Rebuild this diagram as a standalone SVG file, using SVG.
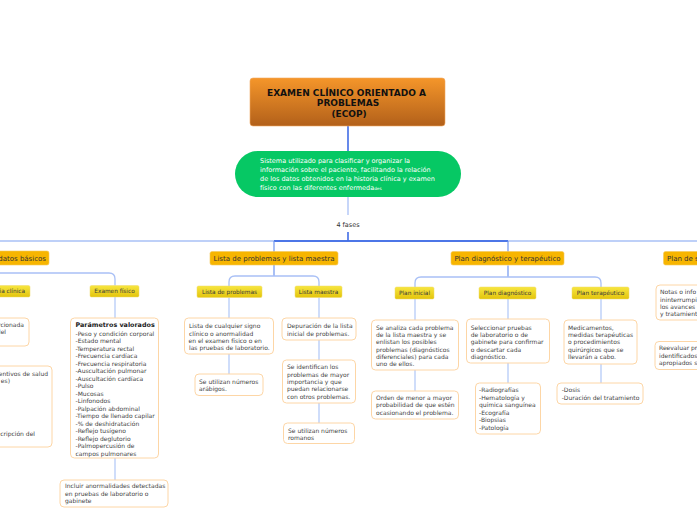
<svg xmlns="http://www.w3.org/2000/svg" width="697" height="520" viewBox="0 0 697 520">
<defs>
<linearGradient id="gTitle" x1="0" y1="0" x2="0" y2="1">
<stop offset="0" stop-color="#f5962a"/>
<stop offset="1" stop-color="#b2601a"/>
</linearGradient>
<linearGradient id="gL2" x1="0" y1="0" x2="0" y2="1">
<stop offset="0" stop-color="#f7e640"/>
<stop offset="1" stop-color="#e3c40c"/>
</linearGradient>
<style>
text{font-family:"DejaVu Sans","Verdana",sans-serif;}
.l1{fill:#f7b500;stroke:#f5c95a;stroke-width:0.6;}
.l1t{font-size:7px;fill:#333;text-anchor:middle;}
.l2{fill:url(#gL2);stroke:#efd86a;stroke-width:0.5;}
.l2t{font-size:5.8px;fill:#3a3a3a;text-anchor:middle;}
.box{fill:#fff;stroke:#fdd6a6;stroke-width:1;}
.bt{font-size:6px;fill:#444;}
.gt{font-size:6.5px;fill:#fff;}
.dk{stroke:#2658e2;stroke-width:1.4;fill:none;}
.md{stroke:#6f95ee;stroke-width:1.2;fill:none;}
.lt{stroke:#a9c0f6;stroke-width:1.3;fill:none;}
.lt2{stroke:#b6cbf7;stroke-width:1.3;fill:none;}
</style>
</defs>
<rect width="697" height="520" fill="#fff"/>

<g id="connectors">
<path class="dk" d="M348 126V151"/>
<path class="lt" d="M348 197V215"/>
<path class="dk" d="M348 232V241"/>
<path class="lt" d="M0 241H697"/>
<path class="dk" d="M274 241H508" stroke="#4a78e8"/>
<path class="md" d="M274 241V252"/>
<path class="md" d="M508 241V252"/>
<path class="md" d="M274 265V276"/>
<path class="lt" d="M229 286V282Q229 276 235 276H313Q319 276 319 282V286"/>
<path class="md" d="M508 265.5V277"/>
<path class="lt" d="M415 287V283Q415 277 421 277H595Q601 277 601 283V287"/>
<path class="lt" d="M0 273H109Q115 273 115 279V285.5"/>
<path class="lt2" d="M115 297V318M115 458V480"/>
<path class="lt2" d="M229 297.5V318M229 354V374"/>
<path class="lt2" d="M319 297.5V318M319 340V360M319 403V423"/>
<path class="lt2" d="M415 299V320M415 370V391"/>
<path class="lt2" d="M508 299V319M508 363V383"/>
<path class="lt2" d="M601 299V320M601 364V383"/>
</g>

<g id="title">
<rect x="250" y="78" width="195" height="48" rx="3" fill="url(#gTitle)" stroke="#f2a860" stroke-width="0.6"/>
<text x="346.5" y="95.6" font-size="9" font-weight="bold" fill="#111" text-anchor="middle">EXAMEN CLÍNICO ORIENTADO A</text>
<text x="348" y="106.3" font-size="9" font-weight="bold" fill="#111" text-anchor="middle">PROBLEMAS</text>
<text x="349" y="117" font-size="9" font-weight="bold" fill="#111" text-anchor="middle">(ECOP)</text>
</g>

<g id="definition">
<rect x="235" y="151" width="226" height="46" rx="23" fill="#06c864"/>
<text class="gt" x="260" y="162.5">Sistema utilizado para clasificar y organizar la</text>
<text class="gt" x="260" y="171.5">información sobre el paciente, facilitando la relación</text>
<text class="gt" x="260" y="181">de los datos obtenidos en la historia clínica y examen</text>
<text class="gt" x="260" y="190">físico con las diferentes enfermeda<tspan font-size="4.2">des</tspan></text>
</g>

<g id="label-fases">
<text x="348" y="227" font-size="6.5" fill="#333" text-anchor="middle">4 fases</text>
</g>

<g id="n-datos">
<rect class="l1" x="-10" y="251" width="59" height="14" rx="2"/>
<text x="46" y="260.5" font-size="7" fill="#333" text-anchor="end">datos básicos</text>
</g>
<g id="n-lista">
<rect class="l1" x="210" y="251.5" width="128" height="13.5" rx="2"/>
<text class="l1t" x="274" y="260.7">Lista de problemas y lista maestra</text>
</g>
<g id="n-plan">
<rect class="l1" x="451" y="251.5" width="113" height="13.5" rx="2"/>
<text class="l1t" x="507.5" y="260.7">Plan diagnóstico y terapéutico</text>
</g>
<g id="n-plans">
<rect class="l1" x="663.5" y="251.5" width="50" height="13.5" rx="2"/>
<text x="667" y="260.7" font-size="7" fill="#333">Plan de s</text>
</g>

<g id="n-historia">
<rect class="l2" x="-20" y="285.5" width="50" height="11.5" rx="1.5"/>
<text x="25" y="293.3" font-size="5.8" fill="#3a3a3a" text-anchor="end">ia clínica</text>
</g>
<g id="n-examen">
<rect class="l2" x="90" y="285.5" width="49" height="11.5" rx="1.5"/>
<text class="l2t" x="114.5" y="293.3">Examen físico</text>
</g>
<g id="n-listaprob">
<rect class="l2" x="197" y="286" width="65" height="11.5" rx="1.5"/>
<text class="l2t" x="229.5" y="293.8">Lista de problemas</text>
</g>
<g id="n-listamaestra">
<rect class="l2" x="295" y="286" width="47" height="11.5" rx="1.5"/>
<text class="l2t" x="318.5" y="293.8">Lista maestra</text>
</g>
<g id="n-inicial">
<rect class="l2" x="395" y="287" width="39" height="12" rx="1.5"/>
<text class="l2t" x="414.5" y="295">Plan inicial</text>
</g>
<g id="n-diag">
<rect class="l2" x="479" y="287" width="57" height="12" rx="1.5"/>
<text class="l2t" x="507.5" y="295">Plan diagnóstico</text>
</g>
<g id="n-terap">
<rect class="l2" x="572" y="287" width="57" height="12" rx="1.5"/>
<text class="l2t" x="600.5" y="295">Plan terapéutico</text>
</g>

<g id="b-hist1">
<rect class="box" x="-10" y="318" width="39" height="28" rx="4"/>
<text class="bt" x="24" y="326.5" text-anchor="end">rcionada</text>
<text class="bt" x="6" y="334" text-anchor="end">del</text>
</g>
<g id="b-hist2">
<rect class="box" x="-10" y="366" width="62" height="81" rx="4"/>
<text class="bt" x="48" y="376" text-anchor="end">entivos de salud</text>
<text class="bt" x="10" y="383" text-anchor="end">es)</text>
<text class="bt" x="35" y="436" text-anchor="end">cripción del</text>
</g>
<g id="b-param">
<rect class="box" x="70.5" y="318" width="88" height="140" rx="4"/>
<text x="75.5" y="326.5" font-size="6.4" font-weight="bold" fill="#222">Parámetros valorados</text>
<text class="bt" x="75.5" y="335.5">-Peso y condición corporal</text>
<text class="bt" x="75.5" y="343">-Estado mental</text>
<text class="bt" x="75.5" y="350.5">-Temperatura rectal</text>
<text class="bt" x="75.5" y="358">-Frecuencia cardíaca</text>
<text class="bt" x="75.5" y="365.5">-Frecuencia respiratoria</text>
<text class="bt" x="75.5" y="373">-Auscultación pulmonar</text>
<text class="bt" x="75.5" y="380.5">-Auscultación cardíaca</text>
<text class="bt" x="75.5" y="388">-Pulso</text>
<text class="bt" x="75.5" y="395.5">-Mucosas</text>
<text class="bt" x="75.5" y="403">-Linfonodos</text>
<text class="bt" x="75.5" y="410.5">-Palpación abdominal</text>
<text class="bt" x="75.5" y="418">-Tiempo de llenado capilar</text>
<text class="bt" x="75.5" y="425.5">-% de deshidratación</text>
<text class="bt" x="75.5" y="433">-Reflejo tusígeno</text>
<text class="bt" x="75.5" y="440.5">-Reflejo deglutorio</text>
<text class="bt" x="75.5" y="448">-Palmopercusión de</text>
<text class="bt" x="75.5" y="455.5">campos pulmonares</text>
</g>
<g id="b-incluir">
<rect class="box" x="60" y="480" width="108" height="27" rx="4"/>
<text class="bt" x="65" y="488">Incluir anormalidades detectadas</text>
<text class="bt" x="65" y="495.5">en pruebas de laboratorio o</text>
<text class="bt" x="65" y="503">gabinete</text>
</g>

<g id="b-cualquier">
<rect class="box" x="184.5" y="318" width="89" height="36" rx="4"/>
<text class="bt" x="189" y="328.3">Lista de cualquier signo</text>
<text class="bt" x="189" y="335.6">clínico o anormalidad</text>
<text class="bt" x="188.5" y="343">en el examen físico o en</text>
<text class="bt" x="189" y="350.3">las pruebas de laboratorio.</text>
</g>
<g id="b-arabigos">
<rect class="box" x="195" y="374" width="68" height="21.5" rx="4"/>
<text class="bt" x="199" y="384">Se utilizan números</text>
<text class="bt" x="199" y="391.3">arábigos.</text>
</g>
<g id="b-depuracion">
<rect class="box" x="282" y="318" width="74" height="22" rx="4"/>
<text class="bt" x="287" y="328.3">Depuración de la lista</text>
<text class="bt" x="287" y="335.6">inicial de problemas.</text>
</g>
<g id="b-identifican">
<rect class="box" x="282.5" y="360" width="73" height="43" rx="4"/>
<text class="bt" x="287" y="369.3">Se identifican los</text>
<text class="bt" x="287" y="376.6">problemas de mayor</text>
<text class="bt" x="287" y="384">importancia y que</text>
<text class="bt" x="287" y="391.3">puedan relacionarse</text>
<text class="bt" x="287" y="398.7">con otros problemas.</text>
</g>
<g id="b-romanos">
<rect class="box" x="283.5" y="423" width="71" height="20.5" rx="4"/>
<text class="bt" x="288" y="432.5">Se utilizan números</text>
<text class="bt" x="288" y="439.8">romanos</text>
</g>

<g id="b-analiza">
<rect class="box" x="371.5" y="320" width="87" height="50" rx="4"/>
<text class="bt" x="376" y="329.5">Se analiza cada problema</text>
<text class="bt" x="376" y="336.8">de la lista maestra y se</text>
<text class="bt" x="376" y="344.2">enlistan los posibles</text>
<text class="bt" x="376" y="351.5">problemas (diagnósticos</text>
<text class="bt" x="376" y="358.8">diferenciales) para cada</text>
<text class="bt" x="376" y="366.2">uno de ellos.</text>
</g>
<g id="b-orden">
<rect class="box" x="371.5" y="391" width="87" height="28" rx="4"/>
<text class="bt" x="376" y="399.8">Orden de menor a mayor</text>
<text class="bt" x="376" y="407.2">probabilidad de que estén</text>
<text class="bt" x="376" y="415">ocasionando el problema.</text>
</g>
<g id="b-seleccionar">
<rect class="box" x="466.5" y="319" width="83" height="44" rx="4"/>
<text class="bt" x="470.7" y="329.5">Seleccionar pruebas</text>
<text class="bt" x="470.7" y="336.8">de laboratorio o de</text>
<text class="bt" x="470.7" y="344.2">gabinete para confirmar</text>
<text class="bt" x="470.7" y="351.5">o descartar cada</text>
<text class="bt" x="470.7" y="358.8">diagnóstico.</text>
</g>
<g id="b-radiografias">
<rect class="box" x="475.5" y="383" width="65" height="51" rx="4"/>
<text class="bt" x="479" y="392.2">-Radiografías</text>
<text class="bt" x="479" y="399.5">-Hematología y</text>
<text class="bt" x="479" y="407">química sanguínea</text>
<text class="bt" x="479" y="414.8">-Ecografía</text>
<text class="bt" x="479" y="422.2">-Biopsias</text>
<text class="bt" x="479" y="429.8">-Patología</text>
</g>
<g id="b-medicamentos">
<rect class="box" x="564" y="320" width="73" height="44" rx="4"/>
<text class="bt" x="568" y="329.5">Medicamentos,</text>
<text class="bt" x="568" y="336.8">medidas terapéuticas</text>
<text class="bt" x="568" y="344.2">o procedimientos</text>
<text class="bt" x="568" y="351.5">quirúrgicos que se</text>
<text class="bt" x="568" y="358.8">llevarán a cabo.</text>
</g>
<g id="b-dosis">
<rect class="box" x="557" y="383" width="86" height="21" rx="4"/>
<text class="bt" x="561.7" y="392.2">-Dosis</text>
<text class="bt" x="561.7" y="399.5">-Duración del tratamiento</text>
</g>

<g id="b-notas">
<rect class="box" x="656" y="285" width="60" height="35" rx="4"/>
<text class="bt" x="660" y="294.3">Notas o info</text>
<text class="bt" x="660" y="301.6">ininterrumpi</text>
<text class="bt" x="660" y="309">los avances</text>
<text class="bt" x="660" y="316.3">y tratamient</text>
</g>
<g id="b-reevaluar">
<rect class="box" x="655" y="341.5" width="60" height="28" rx="4"/>
<text class="bt" x="659" y="350.3">Reevaluar pr</text>
<text class="bt" x="659" y="357.6">identificados</text>
<text class="bt" x="659" y="365">apropiados s</text>
</g>
</svg>
